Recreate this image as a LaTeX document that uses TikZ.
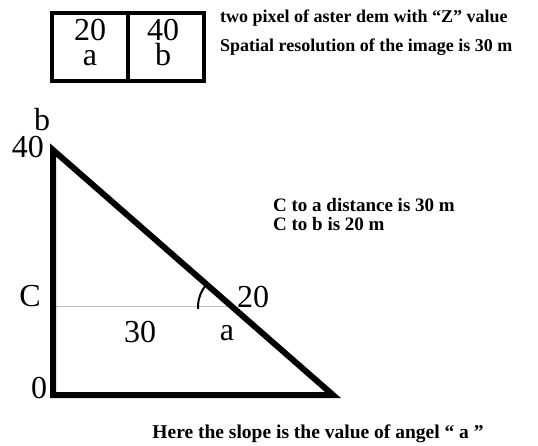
\documentclass[tikz,border=0pt]{standalone}
\usepackage{fontspec}
\setmainfont{Liberation Serif}
\begin{document}
\begin{tikzpicture}[x=1pt,y=-1pt,
  big/.style={font=\fontsize{32}{32}\selectfont, inner sep=0pt, anchor=base},
  note/.style={font=\fontsize{18}{20}\selectfont\bfseries, inner sep=0pt, anchor=base west},
  small/.style={font=\fontsize{19}{19}\selectfont\bfseries, inner sep=0pt, anchor=base west}]
\useasboundingbox (0,0) rectangle (538,446);
% pixel boxes
\draw[line width=4pt] (52,13) rectangle (128,81);
\draw[line width=4pt] (128,13) rectangle (204,81);
\node[big] (v20) at (90,41) {20};
\node[big] (la) at (90,66) {a};
\node[big] (v40) at (163,41) {40};
\node[big] (lb) at (163,66) {b};
\node[note] (t1) at (220,23) {two pixel of aster dem with “Z” value};
\node[note] (t2) at (220,52) {Spatial resolution of the image is 30 m};
% triangle
\coordinate (B) at (53,150);
\coordinate (O) at (53,395);
\coordinate (R) at (333,395);
\coordinate (C) at (53,307);
\coordinate (I) at (232,307);
\draw[gray!50, line width=1pt] (C) -- (I);
\draw[line width=6pt, line join=miter] (B) -- (O) -- (R) -- cycle;
\draw[line width=2pt] ([shift={(224:34)}]I) arc[start angle=224, end angle=177, radius=34];
\node[big] (nb) at (42,131) {b};
\node[big] (n40) at (28,158) {40};
\node[big] (nC) at (30,307) {C};
\node[big] (n0) at (39,398) {0};
\node[big] (n20) at (253,308) {20};
\node[big] (n30) at (140,342) {30};
\node[big] (na) at (227,340) {a};
\node[small] (d1) at (273,212) {C to a distance is 30 m};
\node[small] (d2) at (273,231) {C to b is 20 m};
\node[note, anchor=base, font=\fontsize{19.5}{20}\selectfont\bfseries] (bot) at (318,438) {Here the slope is the value of angel “ a ”};
\end{tikzpicture}
\end{document}
